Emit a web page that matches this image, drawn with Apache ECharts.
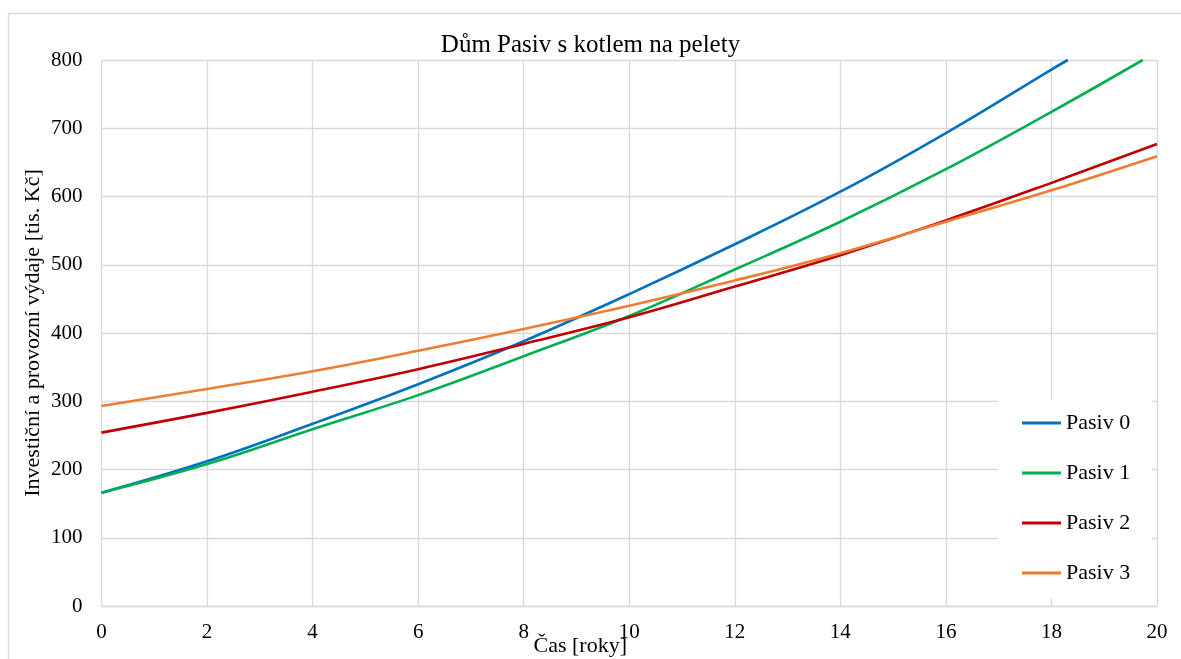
<!DOCTYPE html>
<html>
<head>
<meta charset="utf-8">
<script src="https://cdn.jsdelivr.net/npm/echarts@6/dist/echarts.min.js"></script>
<style>
html,body{margin:0;padding:0;background:#fff;}
#chart{width:1181px;height:659px;}
</style>
</head>
<body>
<div id="chart"></div>
<script>
// ---- data ----
const titleText = 'Dům Pasiv s kotlem na pelety';
const xAxisName = 'Čas [roky]';
const yAxisName = 'Investiční a provozní výdaje [tis. Kč]';
const seriesNames = ['Pasiv 0', 'Pasiv 1', 'Pasiv 2', 'Pasiv 3'];
const years = [0, 2, 4, 6, 8, 10, 12, 14, 16, 18, 20];
const pasiv0 = [166, 212, 267, 325, 388, 457, 530, 607, 693, 786];
const pasiv0End = [18.31, 800];
const pasiv1 = [166, 208, 259, 309, 366, 425, 493, 563, 640, 724];
const pasiv1End = [19.73, 800];
const pasiv2 = [254, 283, 314, 347, 384, 423, 468, 514, 565, 620, 677];
const pasiv3 = [293, 318, 344, 374, 406, 440, 477, 517, 563, 609, 659];
const colors = ['#0070C0', '#00B050', '#C00000', '#ED7D31'];

function pairs(vals, end) {
  const out = vals.map((v, i) => [years[i], v]);
  if (end) out.push(end);
  return out;
}
const seriesData = [pairs(pasiv0, pasiv0End), pairs(pasiv1, pasiv1End), pairs(pasiv2), pairs(pasiv3)];

const FONT = '"Liberation Serif", "Times New Roman", serif';
const GRID = '#D9D9D9';

const chart = echarts.init(document.getElementById('chart'), null, {renderer: 'canvas'});
chart.setOption({
  animation: false,
  backgroundColor: '#fff',
  textStyle: {fontFamily: FONT},
  title: {
    text: titleText,
    left: 'center',
    top: 28,
    textStyle: {fontFamily: FONT, fontSize: 25, fontWeight: 'normal', color: '#000'}
  },
  graphic: [{
    type: 'rect',
    shape: {x: 8.5, y: 13.5, width: 1300, height: 800},
    style: {fill: 'none', stroke: GRID, lineWidth: 1.3},
    silent: true, z: -1
  }],
  grid: {left: 101.5, right: 24, top: 60, bottom: 53, containLabel: false, outerBoundsMode: 'none'},
  xAxis: {
    type: 'value', min: 0, max: 20, interval: 2,
    name: xAxisName, nameLocation: 'middle', nameGap: 29, nameMoveOverlap: false,
    nameTextStyle: {fontFamily: FONT, fontSize: 22, color: '#000', padding: [0, 98, 0, 0]},
    axisLine: {show: true, lineStyle: {color: GRID, width: 1.3}},
    axisTick: {show: false},
    axisLabel: {fontFamily: FONT, fontSize: 21, color: '#000', margin: 16},
    splitLine: {show: true, lineStyle: {color: GRID, width: 1.3}}
  },
  yAxis: {
    type: 'value', min: 0, max: 800, interval: 100,
    name: yAxisName, nameLocation: 'middle', nameGap: 57, nameRotate: 90, nameMoveOverlap: false,
    nameTextStyle: {fontFamily: FONT, fontSize: 22, color: '#000'},
    axisLine: {show: false},
    axisTick: {show: false},
    axisLabel: {fontFamily: FONT, fontSize: 21, color: '#000', margin: 19},
    splitLine: {show: true, lineStyle: {color: GRID, width: 1.3}}
  },
  legend: {
    orient: 'vertical',
    left: 998, top: 400,
    padding: [12, 22, 14, 24],
    backgroundColor: '#fff',
    icon: 'rect',
    itemWidth: 39, itemHeight: 3, itemGap: 28,
    textStyle: {fontFamily: FONT, fontSize: 22, color: '#000', lineHeight: 22},
    data: seriesNames
  },
  series: seriesNames.map((n, i) => ({
    name: n,
    type: 'line',
    data: seriesData[i],
    smooth: 0.4,
    symbol: 'none',
    showSymbol: false,
    clip: true,
    lineStyle: {color: colors[i], width: 2.6},
    itemStyle: {color: colors[i]}
  }))
});
</script>
</body>
</html>
